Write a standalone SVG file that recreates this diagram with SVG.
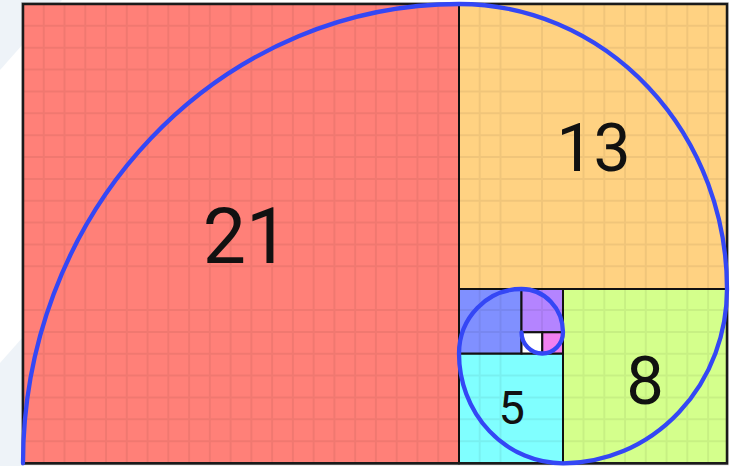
<svg xmlns="http://www.w3.org/2000/svg" width="730" height="466" viewBox="0 0 730 466">
<style>
.sq{stroke:#111;stroke-width:2}
.grid{fill:none;stroke:#000;stroke-opacity:0.06;stroke-width:2}
.num{font-family:Roboto,"Liberation Sans",sans-serif;fill:#111;text-anchor:middle}
.spiral{fill:none;stroke:#3447f5;stroke-width:4.3;stroke-linecap:round}
</style>
<rect width="730" height="466" fill="#ffffff"/>
<polygon points="0,0 62,0 0,70" fill="#eef3f8"/>
<polygon points="23,337 23,466 0,466 0,363" fill="#eef3f8"/>
<g id="sq21"><rect class="sq" x="23" y="4" width="436" height="459.3" fill="#ff8078"/></g>
<g id="sq13"><rect class="sq" x="459" y="4" width="268" height="285" fill="#ffd282"/></g>
<g id="sq8"><rect class="sq" x="563" y="289" width="164" height="174.3" fill="#d4ff8c"/></g>
<g id="sq5"><rect class="sq" x="459" y="353.5" width="104" height="109.8" fill="#80ffff"/></g>
<g id="sq3"><rect class="sq" x="459" y="289" width="62.5" height="64.5" fill="#8090ff"/></g>
<g id="sq2"><rect class="sq" x="521.5" y="289" width="41.5" height="43.3" fill="#b484ff"/></g>
<g id="sq1a"><rect class="sq" x="521.5" y="332.3" width="20.8" height="21.2" fill="#ffffff"/></g>
<g id="sq1b"><rect class="sq" x="542.3" y="332.3" width="20.7" height="21.2" fill="#f080f0"/></g>
<path class="grid" d="M43.76 4V463M64.52 4V463M85.28 4V463M106.04 4V463M126.8 4V463M147.56 4V463M168.32 4V463M189.08 4V463M209.84 4V463M230.6 4V463M251.36 4V463M272.12 4V463M292.88 4V463M313.64 4V463M334.4 4V463M355.16 4V463M375.92 4V463M396.68 4V463M417.44 4V463M438.2 4V463M479.72 4V463M500.48 4V463M542 4V332M583.52 4V463M604.28 4V463M625.04 4V463M645.8 4V463M666.56 4V463M687.32 4V463M708.08 4V463M23 25.86H727M23 47.72H727M23 69.58H727M23 91.44H727M23 113.3H727M23 135.16H727M23 157.02H727M23 178.88H727M23 200.74H727M23 222.6H727M23 244.46H727M23 266.32H727M23 310.04H727M23 331.9H521M563 331.9H727M23 353.76H459M563 353.76H727M23 375.62H727M23 397.48H727M23 419.34H727M23 441.2H727"/>
<rect x="23" y="4" width="704" height="459.3" fill="none" stroke="#1a1a1a" stroke-width="2.5"/>
<rect x="21.5" y="2.5" width="707" height="462.3" fill="none" stroke="#000" stroke-opacity="0.15" stroke-width="1"/>
<g id="labels">
<text class="num" x="246" y="262.5" font-size="77">21</text>
<text class="num" x="593.5" y="171" font-size="66">13</text>
<text class="num" x="645" y="404" font-size="67">8</text>
<text class="num" x="511.7" y="424" font-size="47">5</text>
</g>
<g id="connectors">
<path class="spiral" d="M23 463.3A436 459.3 0 0 1 459 4A268 285 0 0 1 727 289A164 174.3 0 0 1 563 463.3A104 109.8 0 0 1 459 353.5A62.5 64.5 0 0 1 521.5 289A41.5 43.3 0 0 1 563 332.3A20.7 21.2 0 0 1 542.3 353.5A20.8 21.2 0 0 1 521.5 332.3"/>
</g>
</svg>
